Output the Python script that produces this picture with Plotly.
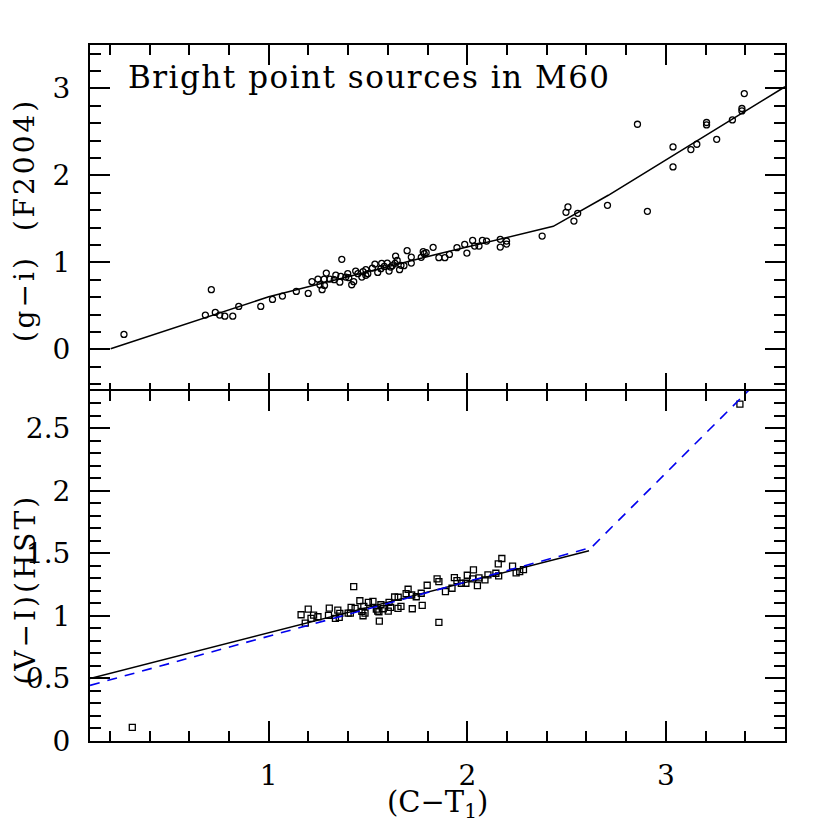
import plotly.graph_objects as go

# top panel: (g-i) F2004 vs (C-T1), bright point sources
top_x = [0.271, 0.711, 0.681, 0.731, 0.753, 0.779, 0.819, 0.849, 0.960, 1.019, 1.069, 1.139, 1.199,
         1.218, 1.248, 1.258, 1.269, 1.281, 1.290, 1.279, 1.308, 1.330, 1.338, 1.358, 1.368, 1.363,
         1.388, 1.398, 1.403, 1.418, 1.428, 1.438, 1.449, 1.469, 1.475, 1.489, 1.489, 1.499, 1.522,
         1.535, 1.549, 1.569, 1.565, 1.582, 1.597, 1.606, 1.614, 1.622, 1.639, 1.636, 1.647, 1.659,
         1.666, 1.681, 1.697, 1.718, 1.718, 1.768, 1.778, 1.783, 1.793, 1.828, 1.857, 1.887, 1.910,
         1.948, 1.987, 1.998, 2.027, 2.037, 2.059, 2.076, 2.097, 2.166, 2.166, 2.198, 2.198, 2.377,
         2.497, 2.507, 2.537, 2.556, 2.706, 2.857, 2.907, 3.036, 3.036, 3.126, 3.156, 3.205, 3.205,
         3.256, 3.335, 3.383, 3.383, 3.395]
top_y = [0.173, 0.687, 0.395, 0.426, 0.395, 0.383, 0.383, 0.495, 0.495, 0.575, 0.614, 0.667, 0.644,
         0.779, 0.809, 0.744, 0.687, 0.736, 0.878, 0.809, 0.809, 0.802, 0.855, 0.774, 1.036, 0.840,
         0.832, 0.871, 0.825, 0.744, 0.779, 0.901, 0.871, 0.832, 0.894, 0.917, 0.852, 0.871, 0.936,
         0.982, 0.886, 0.990, 0.929, 0.955, 0.993, 0.901, 0.947, 0.963, 1.074, 0.990, 1.024, 0.917,
         0.967, 0.963, 1.136, 1.062, 0.993, 1.059, 1.124, 1.101, 1.113, 1.174, 1.055, 1.055, 1.093,
         1.170, 1.208, 1.108, 1.254, 1.189, 1.189, 1.254, 1.246, 1.266, 1.177, 1.246, 1.212, 1.304,
         1.577, 1.638, 1.476, 1.565, 1.657, 2.589, 1.588, 2.328, 2.098, 2.298, 2.359, 2.609, 2.581,
         2.416, 2.639, 2.770, 2.742, 2.942]
top_fit_x = [0.204, 1.0, 1.857, 2.433, 2.71, 3.6]
top_fit_y = [0.008, 0.605, 1.100, 1.415, 1.772, 3.02]

# bottom panel: (V-I) HST vs (C-T1)
bot_x = [0.313, 1.163, 1.184, 1.199, 1.213, 1.226, 1.248, 1.301, 1.305, 1.336, 1.348, 1.358, 1.355,
         1.400, 1.411, 1.415, 1.428, 1.435, 1.459, 1.469, 1.479, 1.475, 1.485, 1.502, 1.525, 1.542,
         1.549, 1.555, 1.557, 1.565, 1.577, 1.602, 1.606, 1.614, 1.634, 1.652, 1.651, 1.666, 1.692,
         1.702, 1.720, 1.723, 1.743, 1.768, 1.773, 1.798, 1.848, 1.857, 1.857, 1.890, 1.923, 1.935,
         1.948, 1.970, 1.993, 2.000, 2.031, 2.027, 2.051, 2.059, 2.089, 2.104, 2.144, 2.156, 2.174,
         2.158, 2.228, 2.246, 2.264, 2.283, 3.373]
bot_y = [0.109, 1.010, 0.943, 1.055, 0.981, 1.007, 0.994, 1.005, 1.063, 0.981, 1.047, 1.021, 0.989,
         1.023, 1.023, 1.069, 1.235, 1.061, 1.122, 1.037, 1.077, 1.002, 1.023, 1.109, 1.117, 1.055,
         1.039, 1.034, 0.959, 1.090, 1.058, 1.039, 1.109, 1.069, 1.152, 1.150, 1.061, 1.077, 1.179,
         1.214, 1.168, 1.058, 1.154, 1.182, 1.085, 1.246, 1.297, 1.275, 0.949, 1.195, 1.222, 1.307,
         1.283, 1.262, 1.262, 1.326, 1.369, 1.297, 1.243, 1.305, 1.289, 1.329, 1.342, 1.417, 1.460,
         1.321, 1.399, 1.345, 1.355, 1.371, 2.695]
bot_fit_x = [0.1, 2.613]
bot_fit_y = [0.50, 1.522]
bot_dash_x = [0.1, 2.626, 3.42]
bot_dash_y = [0.445, 1.549, 2.81]

FONT = "DejaVu Serif"
split = 0.5015
px = 1.0 / 696  # one pixel of plot height in paper units

fig = go.Figure()
fig.add_trace(go.Scatter(x=top_x, y=top_y, mode="markers", xaxis="x", yaxis="y",
                         marker=dict(symbol="circle-open", size=6, color="black", line=dict(width=1.3))))
fig.add_trace(go.Scatter(x=top_fit_x, y=top_fit_y, mode="lines", xaxis="x", yaxis="y",
                         line=dict(color="black", width=1.6)))
fig.add_trace(go.Scatter(x=bot_x, y=bot_y, mode="markers", xaxis="x2", yaxis="y2",
                         marker=dict(symbol="square-open", size=6, color="black", line=dict(width=1.3))))
fig.add_trace(go.Scatter(x=bot_fit_x, y=bot_fit_y, mode="lines", xaxis="x2", yaxis="y2",
                         line=dict(color="black", width=1.6)))
fig.add_trace(go.Scatter(x=bot_dash_x, y=bot_dash_y, mode="lines", xaxis="x2", yaxis="y2",
                         line=dict(color="#0000ee", width=1.6, dash="10px,8px")))

axis_common = dict(showline=True, linecolor="black", linewidth=2, mirror="allticks",
                   ticks="inside", ticklen=20, tickwidth=1.5, tickcolor="black",
                   showgrid=False, zeroline=False,
                   tickfont=dict(family=FONT, size=28, color="black"))

# page body has an 8px margin, so margins are shifted to keep the plot box in place
fig.update_layout(
    width=830, height=830,
    margin=dict(l=82, r=53, t=37, b=97),
    paper_bgcolor="white", plot_bgcolor="white",
    showlegend=False,
    xaxis=dict(axis_common, range=[0.1, 3.6], tick0=0, dtick=1, showticklabels=False,
               anchor="y", domain=[0, 1],
               minor=dict(ticks="inside", ticklen=10, dtick=0.2, tick0=0, tickcolor="black", tickwidth=1.5)),
    yaxis=dict(axis_common, range=[-0.5, 3.5], tick0=0, dtick=1, domain=[split - px, 1], anchor="x",
               ticklabelstandoff=12,
               minor=dict(ticks="inside", ticklen=11, dtick=0.2, tick0=0, tickcolor="black", tickwidth=1.5)),
    xaxis2=dict(axis_common, range=[0.1, 3.6], tick0=0, dtick=1, anchor="y2", domain=[0, 1],
                ticklabelstandoff=8,
                minor=dict(ticks="inside", ticklen=10, dtick=0.2, tick0=0, tickcolor="black", tickwidth=1.5)),
    yaxis2=dict(axis_common, range=[0, 2.8], tick0=0, dtick=0.5, domain=[0, split + px], anchor="x2",
                ticklabelstandoff=12,
                minor=dict(ticks="inside", ticklen=11, dtick=0.1, tick0=0, tickcolor="black", tickwidth=1.5)),
)

fig.add_annotation(text="<span style='letter-spacing:1.5px'>Bright point sources in M60</span>",
                   xref="paper", yref="paper",
                   x=0.052, y=0.954, xanchor="left", yanchor="middle", showarrow=False,
                   font=dict(family=FONT, size=31, color="black"))
fig.add_annotation(text="<span style='letter-spacing:3px'>(g−i)  (F2004)</span>",
                   xref="paper", yref="paper",
                   x=-0.093, y=0.7486, xanchor="center", yanchor="middle", textangle=-90,
                   showarrow=False, font=dict(family=FONT, size=28, color="black"))
fig.add_annotation(text="<span style='letter-spacing:3px'>(V−I)(HST)</span>",
                   xref="paper", yref="paper",
                   x=-0.093, y=0.218, xanchor="center", yanchor="middle", textangle=-90,
                   showarrow=False, font=dict(family=FONT, size=28, color="black"))
fig.add_annotation(text="(C−T<sub>1</sub>)", xref="paper", yref="paper",
                   x=0.5, y=-0.09, xanchor="center", yanchor="middle",
                   showarrow=False, font=dict(family=FONT, size=29, color="black"))

fig.write_html("out.html")
